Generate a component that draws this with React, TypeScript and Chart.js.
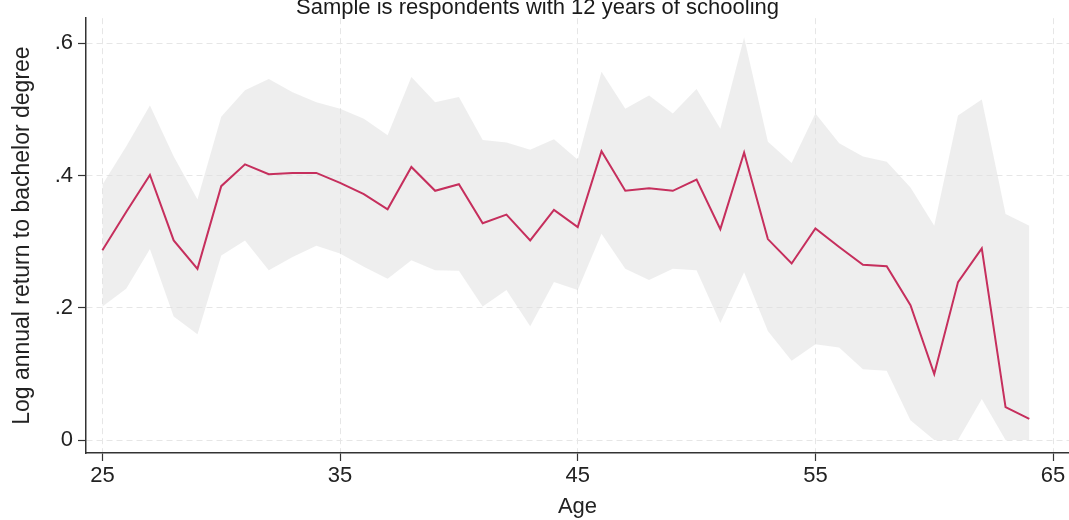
import React, { useEffect, useRef } from 'react';
import { Chart, registerables } from 'chart.js';

Chart.register(...registerables);

const FONT = "'Liberation Sans', Arial, Helvetica, sans-serif";

const titleText = 'Sample is respondents with 12 years of schooling';
const xAxisTitle = 'Age';
const yAxisTitle = 'Log annual return to bachelor degree';

const ages = [
  25, 26, 27, 28, 29, 30, 31, 32, 33, 34,
  35, 36, 37, 38, 39, 40, 41, 42, 43, 44,
  45, 46, 47, 48, 49, 50, 51, 52, 53, 54,
  55, 56, 57, 58, 59, 60, 61, 62, 63, 64,
];

const returns = [
  0.287, 0.345, 0.401, 0.302, 0.259, 0.384, 0.417, 0.402, 0.404, 0.404,
  0.389, 0.372, 0.349, 0.413, 0.377, 0.387, 0.328, 0.341, 0.302, 0.348,
  0.322, 0.437, 0.377, 0.381, 0.377, 0.394, 0.319, 0.435, 0.304, 0.267,
  0.320, 0.292, 0.265, 0.263, 0.204, 0.100, 0.239, 0.290, 0.050, 0.032,
];

const upperCI = [
  0.386, 0.444, 0.506, 0.429, 0.364, 0.489, 0.529, 0.546, 0.526, 0.511,
  0.501, 0.486, 0.461, 0.549, 0.511, 0.519, 0.454, 0.450, 0.439, 0.455,
  0.424, 0.557, 0.501, 0.521, 0.494, 0.531, 0.471, 0.609, 0.451, 0.419,
  0.494, 0.449, 0.429, 0.421, 0.382, 0.324, 0.491, 0.515, 0.342, 0.324,
];

const lowerCI = [
  0.202, 0.229, 0.289, 0.187, 0.160, 0.279, 0.302, 0.257, 0.277, 0.294,
  0.282, 0.262, 0.244, 0.272, 0.257, 0.256, 0.202, 0.227, 0.172, 0.239,
  0.227, 0.312, 0.259, 0.242, 0.259, 0.257, 0.177, 0.254, 0.165, 0.120,
  0.145, 0.140, 0.107, 0.105, 0.030, 0.000, 0.000, 0.062, 0.000, 0.000,
];

const xTicks = [25, 35, 45, 55, 65];
const yTicks = [0, 0.2, 0.4, 0.6];

export default function App() {
  const ref = useRef<HTMLCanvasElement>(null);

  useEffect(() => {
    if (!ref.current) return;
    const toPts = (arr: number[]) => ages.map((a, i) => ({ x: a, y: arr[i] }));

    const titlePlugin = {
      id: 'topTitle',
      afterDraw(chart: any) {
        const ctx = chart.ctx;
        ctx.save();
        ctx.font = `22px ${FONT}`;
        ctx.fillStyle = '#1a1a1a';
        ctx.textAlign = 'center';
        ctx.textBaseline = 'alphabetic';
        ctx.fillText(titleText, chart.width / 2 + 3, 14);
        ctx.restore();
      },
    };

    const chart = new Chart(ref.current, {
      type: 'line',
      data: {
        datasets: [
          {
            label: 'Return',
            data: toPts(returns),
            borderColor: '#c62f5d',
            borderWidth: 2,
            pointRadius: 0,
            fill: false,
            tension: 0,
          },
          {
            label: 'Upper',
            data: toPts(upperCI),
            borderWidth: 0,
            borderColor: 'rgba(0,0,0,0)',
            backgroundColor: 'rgba(222,222,222,0.5)',
            pointRadius: 0,
            fill: '+1',
            tension: 0,
          },
          {
            label: 'Lower',
            data: toPts(lowerCI),
            borderWidth: 0,
            borderColor: 'rgba(0,0,0,0)',
            pointRadius: 0,
            fill: false,
            tension: 0,
          },
        ],
      },
      options: {
        responsive: false,
        animation: false,
        devicePixelRatio: 1,
        layout: { padding: { top: 13, right: 0, left: 0, bottom: 0 } },
        plugins: {
          legend: { display: false },
          tooltip: { enabled: false },
          title: { display: false },
        },
        scales: {
          x: {
            type: 'linear',
            min: 24.31,
            max: 65.67,
            afterBuildTicks: (s: any) => {
              s.ticks = xTicks.map((v) => ({ value: v }));
            },
            afterFit: (s: any) => {
              s.height = 67;
            },
            ticks: {
              font: { family: FONT, size: 22 },
              color: '#222',
              padding: 2,
              maxRotation: 0,
              autoSkip: false,
              callback: (v: any) => String(v),
            },
            grid: {
              color: '#e6e6e6',
              lineWidth: 1,
              tickColor: '#333',
              tickLength: 8,
              tickWidth: 1.2,
              tickBorderDash: [],
              drawTicks: true,
            },
            border: { display: true, color: '#333', width: 1.5, dash: [6, 4] },
            title: {
              display: true,
              text: xAxisTitle,
              font: { family: FONT, size: 22 },
              color: '#222',
              padding: { top: 0, bottom: 0 },
            },
          },
          y: {
            type: 'linear',
            min: -0.0195,
            max: 0.638,
            afterBuildTicks: (s: any) => {
              s.ticks = yTicks.map((v) => ({ value: v }));
            },
            afterFit: (s: any) => {
              s.width = 86;
            },
            ticks: {
              font: { family: FONT, size: 22 },
              color: '#222',
              padding: 5,
              autoSkip: false,
              callback: (v: any) => (v === 0 ? '0' : String(Number(v).toFixed(1)).replace(/^0\./, '.')),
            },
            grid: {
              color: '#e6e6e6',
              lineWidth: 1,
              tickColor: '#333',
              tickLength: 8,
              tickWidth: 1.2,
              tickBorderDash: [],
              drawTicks: true,
            },
            border: { display: true, color: '#333', width: 1.5, dash: [6, 4] },
            title: {
              display: true,
              text: yAxisTitle,
              font: { family: FONT, size: 23 },
              color: '#222',
              padding: { top: 9, bottom: 0 },
            },
          },
        },
      },
      plugins: [titlePlugin],
    });

    return () => chart.destroy();
  }, []);

  return (
    <div style={{ position: 'fixed', left: 0, top: 0, width: 1069, height: 520, background: '#fff', overflow: 'hidden' }}>
      <canvas ref={ref} width={1069} height={520} style={{ display: 'block', width: 1069, height: 520 }} />
    </div>
  );
}
